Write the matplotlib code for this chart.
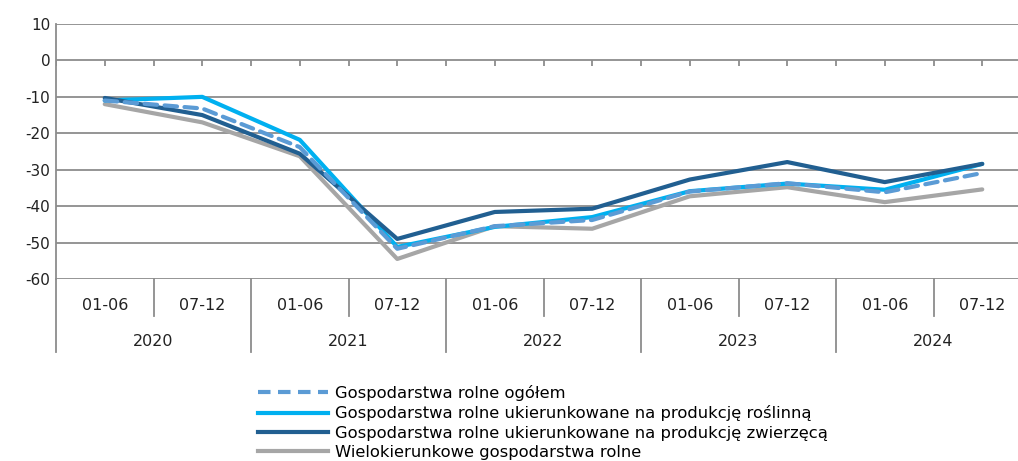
import numpy as np
import matplotlib.pyplot as plt
from matplotlib.lines import Line2D

# ---- dane ----
years = ['2020', '2021', '2022', '2023', '2024']
halves = ['01-06', '07-12']
ogolem = [-11, -13.2, -23.8, -51.7, -45.5, -43.8, -36, -33.7, -36.2, -30.9]
roslinna = [-11, -10, -21.8, -51.2, -45.7, -43, -35.9, -33.8, -35.5, -28.4]
zwierzeca = [-10.3, -15, -25.6, -49, -41.6, -40.7, -32.7, -27.9, -33.4, -28.4]
wielokier = [-12, -17, -26.3, -54.5, -45.5, -46.2, -37.3, -34.8, -38.9, -35.4]
names = ['Gospodarstwa rolne ogółem',
         'Gospodarstwa rolne ukierunkowane na produkcję roślinną',
         'Gospodarstwa rolne ukierunkowane na produkcję zwierzęcą',
         'Wielokierunkowe gospodarstwa rolne']

plt.rcParams['font.family'] = ['DejaVu Sans']
plt.rcParams['axes.unicode_minus'] = False
W, H = 1018, 461
fig = plt.figure(figsize=(W / 100, H / 100), dpi=100)

grid_c = '#8c8c8c'
ax = fig.add_axes([56 / W, 1 - 279 / H, (1031 - 56) / W, (279 - 24) / H])
n = len(years) * len(halves)
x = np.arange(n) + 0.5
ax.set_xlim(0, n)
ax.set_ylim(-60, 10)
ax.set_yticks(np.arange(-60, 11, 10))
ax.yaxis.grid(True, color=grid_c, lw=1.3)
ax.set_axisbelow(True)
for s in ['top', 'right', 'bottom']:
    ax.spines[s].set_visible(False)
ax.spines['left'].set_color(grid_c)
ax.spines['left'].set_linewidth(1.3)
ax.tick_params(axis='y', length=0, labelsize=11, pad=4, colors='#222222')
ax.set_xticks([])
# male kreski osi przy zerze
ax.vlines(np.arange(0, n + 0.5, 0.5), -1.4, 0, color=grid_c, lw=1.3)

c_og, c_ro, c_zw, c_wi = '#5b9bd5', '#00b0f0', '#215f91', '#a6a6a6'
ax.plot(x, wielokier, color=c_wi, lw=3, solid_capstyle='round')
ax.plot(x, roslinna, color=c_ro, lw=3, solid_capstyle='round')
ax.plot(x, zwierzeca, color=c_zw, lw=3, solid_capstyle='round')
ax.plot(x, ogolem, color=c_og, lw=3, ls=(0, (3, 1.8)), dash_capstyle='round')

# os kategorii (dwupoziomowa)
lab = fig.add_axes([56 / W, 1 - 352 / H, (1031 - 56) / W, (352 - 279) / H])
lab.set_xlim(0, n)
lab.set_ylim(-73, 0)
lab.axis('off')
for i in range(n + 1):
    if i % 2 == 0:
        lab.plot([i, i], [0, -73], color=grid_c, lw=1.3, clip_on=False)
    else:
        lab.plot([i, i], [0, -37], color=grid_c, lw=1.3, clip_on=False)
for i in range(n):
    lab.text(i + 0.5, -26, halves[i % 2], ha='center', va='center', fontsize=11.5, color='#222222')
for j, yr in enumerate(years):
    lab.text(2 * j + 1, -62, yr, ha='center', va='center', fontsize=11.5, color='#222222')

handles = [Line2D([], [], color=c_og, lw=3, ls=(0, (3, 1.8))),
           Line2D([], [], color=c_ro, lw=3),
           Line2D([], [], color=c_zw, lw=3),
           Line2D([], [], color=c_wi, lw=3)]
fig.legend(handles, names, loc='upper left', bbox_to_anchor=(258 / W, 1 - 385 / H),
           frameon=False, fontsize=11.8, handlelength=4.3, handletextpad=0.4,
           labelspacing=0.26, borderpad=0, borderaxespad=0)

fig.savefig('out.png', dpi=100)
